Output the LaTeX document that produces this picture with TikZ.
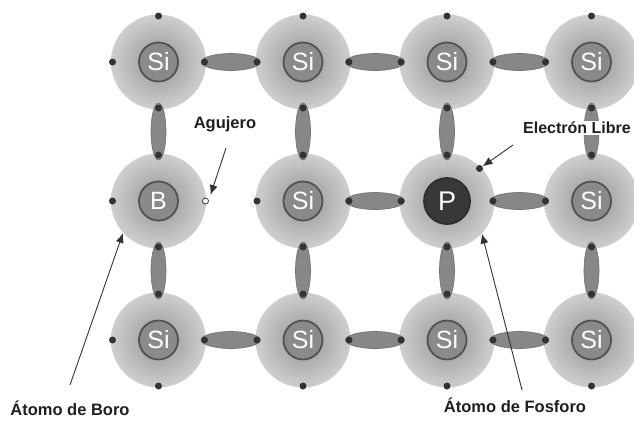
\documentclass[tikz,border=0pt]{standalone}
\usepackage{fontspec}
\setmainfont{Liberation Sans}
\usetikzlibrary{shapes.geometric,arrows.meta}

\begin{document}
\begin{tikzpicture}[x=1pt,y=-1pt,
    atom/.style={circle,minimum size=95pt,inner sep=0pt,inner color=black!42,outer color=black!19},
    core/.style={circle,minimum size=39pt,inner sep=0pt,draw=black!68,line width=1.8pt,fill=black!46,text=white,font=\fontsize{25}{25}\selectfont},
    donor/.style={core,minimum size=46pt,draw=black!82,fill=black!78,font=\fontsize{27}{27}\selectfont},
    hbond/.style={ellipse,minimum width=59pt,minimum height=17pt,inner sep=0pt,fill=black!47,draw=black!56,line width=0.6pt},
    vbond/.style={hbond,minimum width=15pt,minimum height=57pt},
    electron/.style={circle,minimum size=7pt,inner sep=0pt,fill=black!80},
    hole/.style={circle,minimum size=6pt,inner sep=0pt,fill=white,draw=black!80,line width=0.8pt},
    lbl/.style={font=\bfseries\fontsize{16.5}{16.5}\selectfont,text=black!88},
    arrow/.style={-{Latex[length=10pt,width=8pt]},draw=black!80,line width=0.9pt}]
    \useasboundingbox (0,0) rectangle (634,424);
    \clip (0,0) rectangle (634,424);
    \foreach \c/\x in {1/158.5,2/303,3/447,4/591.5}
      \foreach \r/\y in {1/62,2/201,3/340}
        \node[atom] (a\c\r) at (\x,\y) {};
    \foreach \c/\r in {1/1,2/1,3/1,4/1,2/2,4/2,1/3,2/3,3/3,4/3}
      \node[core] (n\c\r) at (a\c\r) {Si};
    \node[core] (n12) at (a12) {B};
    \node[donor] (n32) at (a32) {P};
    % horizontal bonds, the B--Si pair stays open
    \foreach \c/\d/\r in {1/2/1,2/3/1,3/4/1,2/3/2,3/4/2,1/2/3,2/3/3,3/4/3}{
      \path (a\c\r) -- node[hbond] (h\c\r) {} (a\d\r);
      \path (a\c\r) ++(0:46) node[electron] (e\c\r r) {};
      \path (a\d\r) ++(180:46) node[electron] (e\d\r l) {};}
    \foreach \c in {1,2,3,4}
      \foreach \r/\s in {1/2,2/3}{
        \path (a\c\r) -- node[vbond] (v\c\r) {} (a\c\s);
        \path (a\c\r) ++(90:46) node[electron] (e\c\r b) {};
        \path (a\c\s) ++(270:46) node[electron] (e\c\s t) {};}
    \foreach \r in {1,2,3}
      \path (a1\r) ++(180:46) node[electron] (e1\r l) {};
    \foreach \c in {1,2,3,4}{
      \path (a\c1) ++(270:46) node[electron] (e\c1t) {};
      \path (a\c3) ++(90:46) node[electron] (e\c3b) {};}
    \path (a22) ++(180:46) node[electron] (e22l) {};
    \path (a12) ++(0:47) node[hole] (hole) {};
    \path (a32) ++(-45:46) node[electron] (free) {};
    \node[lbl] (agujero) at (225,124) {Agujero};
    \node[lbl,font=\bfseries\fontsize{16}{16}\selectfont,fill=white,inner sep=1pt,anchor=west] (libre) at (522,128) {Electrón Libre};
    \node[lbl] (boro) at (70,408) {Átomo de Boro};
    \node[lbl] (fosforo) at (515,405) {Átomo de Fosforo};
    \coordinate (agujero tail) at (226,148);
    \coordinate (libre tail) at (513,145);
    \coordinate (boro tail) at (70,385);
    \coordinate (fosforo tail) at (522,390);
    \draw[arrow] (agujero tail) -- ([xshift=5pt,yshift=6pt]hole.center);
    \draw[arrow] (libre tail) -- (free);
    \draw[arrow] (boro tail) -- (a12.222);
    \draw[arrow] (fosforo tail) -- (a32.-43);
\end{tikzpicture}
\end{document}
